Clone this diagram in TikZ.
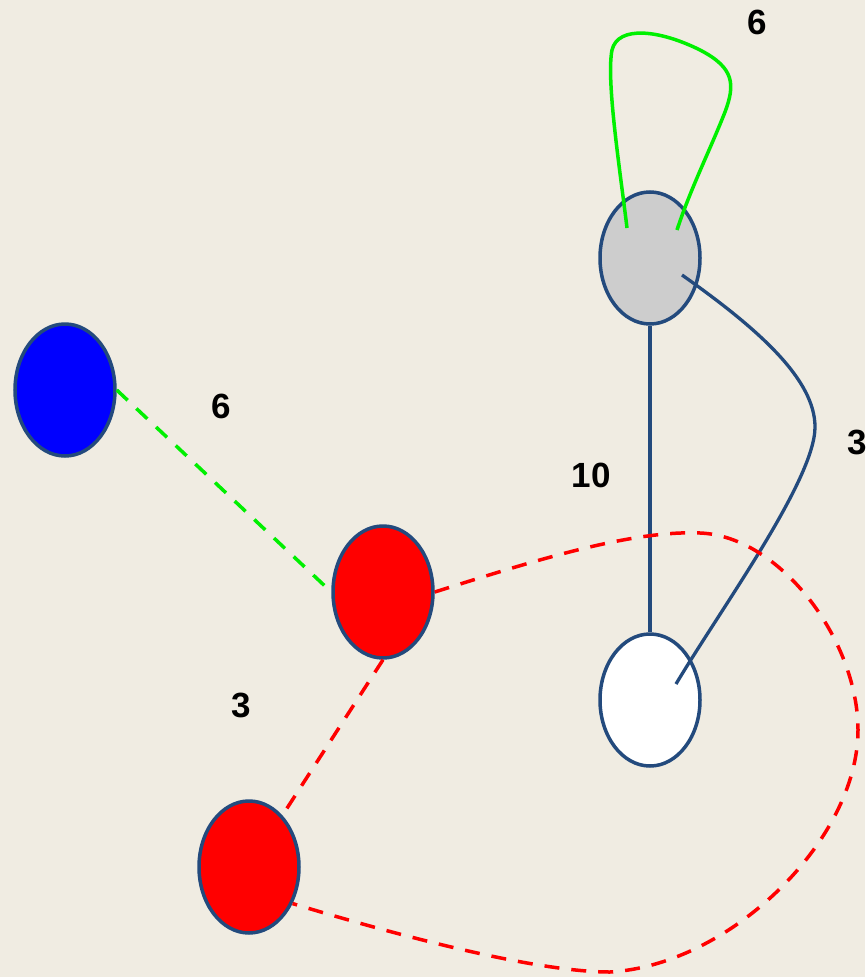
\documentclass[tikz,border=0pt]{standalone}
\usepackage{fontspec}
\setmainfont{Liberation Sans}
\usetikzlibrary{shapes.geometric}
\definecolor{bgcream}{RGB}{240,236,226}
\definecolor{navy}{RGB}{35,74,125}
\definecolor{vgreen}{RGB}{0,240,0}
\definecolor{vred}{RGB}{255,0,0}
\definecolor{vblue}{RGB}{0,0,255}
\definecolor{vgray}{RGB}{205,205,205}
\tikzset{
  vertex/.style={ellipse, draw=navy, line width=3.5pt, minimum width=100pt,
                 minimum height=132pt, inner sep=0pt},
  weight/.style={font=\fontsize{35}{42}\selectfont\bfseries, inner sep=0pt},
  solidedge/.style={draw=navy, line width=3.3pt},
  loopedge/.style={draw=vgreen, line width=3.5pt},
  greendash/.style={draw=vgreen, line width=3.5pt, dash pattern=on 15pt off 12pt},
  reddash/.style={draw=vred, line width=3.5pt, dash pattern=on 15pt off 12pt}
}
\begin{document}
\begin{tikzpicture}[x=1pt, y=-1pt]
  \clip (0,0) rectangle (865,977);
  \fill[bgcream] (0,0) rectangle (865,977);

  % vertices
  \node[vertex, fill=vgray]  (gray)  at (650,258) {};
  \node[vertex, fill=white]  (white) at (650,700) {};
  \node[vertex, fill=vblue]  (blue)  at (65,390)  {};
  \node[vertex, fill=vred]   (redA)  at (383,592) {};
  \node[vertex, fill=vred]   (redB)  at (249,867) {};

  % edge ends that sit inside the vertices
  \coordinate (loopin)  at (627,228);
  \coordinate (loopout) at (677,230);
  \coordinate (arcfrom) at (682,275);
  \coordinate (arcto)   at (676,684);

  % self-loop on the gray vertex
  \draw[loopedge] (loopin) .. controls (620,170) and (606,80) .. (612,50)
    .. controls (618,25) and (660,30) .. (700,50)
    .. controls (735,68) and (735,85) .. (725,112)
    .. controls (710,150) and (690,190) .. (loopout);

  % gray -- white
  \draw[solidedge] (gray) -- (white);
  \draw[solidedge] (arcfrom) .. controls (760,330) and (815,380) .. (815,427)
    .. controls (815,480) and (720,610) .. (arcto);

  % blue -- red
  \draw[greendash] (blue.east) -- (redA.west);

  % red -- red
  \draw[reddash] (redA.south) -- (redB);
  \draw[reddash] (redA.east) .. controls (530,562) and (630,530) .. (700,533)
    .. controls (780,536) and (858,640) .. (858,730)
    .. controls (858,840) and (730,965) .. (610,972)
    .. controls (530,972) and (380,930) .. (redB.-40);

  % weights
  \node[weight] (w1) at (757,22)  {6};
  \node[weight] (w2) at (221,406) {6};
  \node[weight] (w3) at (591,475) {10};
  \node[weight] (w4) at (857,442) {3};
  \node[weight] (w5) at (241,705) {3};
\end{tikzpicture}
\end{document}
